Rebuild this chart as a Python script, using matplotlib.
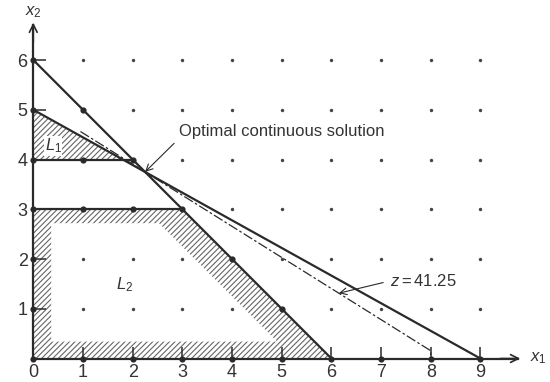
import matplotlib.pyplot as plt
import numpy as np
from matplotlib.patches import Polygon

plt.rcParams['font.family'] = ['Liberation Sans', 'DejaVu Sans']
plt.rcParams['mathtext.fontset'] = 'custom'
plt.rcParams['mathtext.rm'] = 'Liberation Sans'
plt.rcParams['mathtext.it'] = 'Liberation Sans:italic'
plt.rcParams['hatch.linewidth'] = 0.8

# ejes
x1_ticks = list(range(10))
x2_ticks = list(range(1, 7))

# restricciones a*x1 + b*x2 = c
restricciones = [(1, 1, 6), (5, 9, 45)]
# cortes horizontales: (x2, desde x1, hasta x1)
cortes = [(4, 0, 2), (3, 0, 3)]

# objetivo z = 5 x1 + 8 x2
obj = (5, 8)
z_opt = 41.25
x_opt = (2.25, 3.75)
obj_x = (0.95, 8)
flecha_z_x = 6.15

# subproblemas
L1 = [(0, 5), (0, 4), (1.8, 4)]
L2 = [(0, 0), (0, 3), (3, 3), (6, 0)]
L2_interior = [(0.36, 0.34), (0.36, 2.72), (2.53, 2.72), (4.91, 0.34)]

tinta = '#2a2a2a'

fig = plt.figure(figsize=(5.5, 3.82), dpi=100)
ax = fig.add_axes([0, 0, 1, 1])
ax.set_xlim(-0.67, 10.40)
ax.set_ylim(-0.472, 7.206)

# regiones rayadas
ax.add_patch(Polygon(L1, closed=True, facecolor='white', edgecolor='#666',
                     hatch='//////', linewidth=0, zorder=1))
ax.add_patch(Polygon(L2, closed=True, facecolor='white', edgecolor='#666',
                     hatch='//////', linewidth=0, zorder=1))
ax.add_patch(Polygon(L2_interior, closed=True, facecolor='white',
                     edgecolor='none', zorder=1.5))

# rectas de restricciones
for a, b, c in restricciones:
    xs = np.array([0, c / a])
    ax.plot(xs, (c - a * xs) / b, color=tinta, lw=1.6, zorder=3)
for y, xa, xb in cortes:
    ax.plot([xa, xb], [y, y], color=tinta, lw=1.6, zorder=3)

# recta objetivo
xo = np.array(obj_x)
yo = (z_opt - obj[0] * xo) / obj[1]
ax.plot([xo[0], xo[1], xo[1]], [yo[0], yo[1], 0], color=tinta, lw=0.9,
        ls=(0, (8, 2, 2, 2)), zorder=3)

# puntos enteros
gx, gy = np.meshgrid(x1_ticks, [0] + x2_ticks)
gx, gy = gx.ravel(), gy.ravel()
sobre = (gx == 0) | (gy == 0)
for a, b, c in restricciones:
    sobre |= (a * gx + b * gy == c)
for y, xa, xb in cortes:
    sobre |= (gy == y) & (gx >= xa) & (gx <= xb)
ax.scatter(gx[~sobre], gy[~sobre], s=6, color='#444', zorder=4, linewidths=0)
ax.scatter(gx[sobre], gy[sobre], s=20, color=tinta, zorder=4, linewidths=0)

# ejes con flechas
for lado in ['top', 'right']:
    ax.spines[lado].set_visible(False)
ax.spines['left'].set_position(('data', 0))
ax.spines['bottom'].set_position(('data', 0))
ax.spines['left'].set_bounds(0, 6.7)
ax.spines['bottom'].set_bounds(0, 9.75)
for lado in ['left', 'bottom']:
    ax.spines[lado].set_linewidth(1.6)
    ax.spines[lado].set_color(tinta)
ax.annotate('', xy=(9.8, 0), xytext=(9.4, 0),
            arrowprops=dict(arrowstyle='->', color=tinta, lw=1.2,
                            mutation_scale=14, shrinkA=0, shrinkB=0))
ax.annotate('', xy=(0, 6.75), xytext=(0, 6.35),
            arrowprops=dict(arrowstyle='->', color=tinta, lw=1.2,
                            mutation_scale=14, shrinkA=0, shrinkB=0))

ax.set_xticks(x1_ticks)
ax.set_yticks(x2_ticks)
ax.tick_params(direction='in', length=9, width=1.1, color=tinta,
               labelsize=13, labelcolor='#333', pad=4)

ax.text(10.0, 0, '$x_1$', fontsize=12, color='#333', va='center', ha='left')
ax.text(-0.17, 6.9, '$x_2$', fontsize=12, color='#333', va='baseline', ha='left')

# etiquetas
ax.text(0.4, 4.27, '$L_1$', fontsize=12, color='#333', ha='center', va='center',
        zorder=5, bbox=dict(facecolor='white', edgecolor='none', pad=0.5))
ax.text(1.83, 1.48, '$L_2$', fontsize=12, color='#333', ha='center', va='center')

ax.annotate('Optimal continuous solution', xy=x_opt, xytext=(2.93, 4.57),
            fontsize=12, color='#333', ha='left', va='center',
            arrowprops=dict(arrowstyle='->', color=tinta, lw=0.8,
                            relpos=(0, 0), shrinkA=2, shrinkB=0))
ax.annotate('$z = 41.25$',
            xy=(flecha_z_x, (z_opt - obj[0] * flecha_z_x) / obj[1]),
            xytext=(7.18, 1.56), fontsize=12, color='#333', ha='left', va='center',
            arrowprops=dict(arrowstyle='->', color=tinta, lw=0.8,
                            relpos=(0, 0.5), shrinkA=3, shrinkB=0))

fig.savefig('out.png', dpi=100)
